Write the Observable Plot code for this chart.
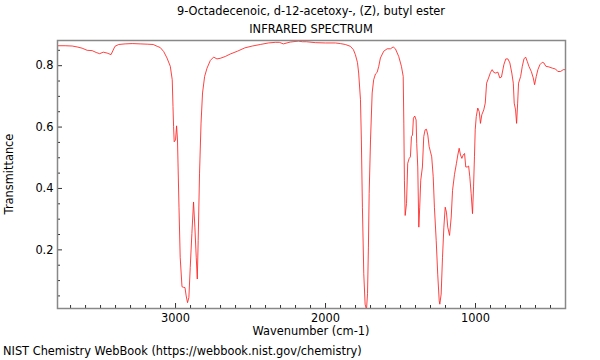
<!DOCTYPE html>
<html><head><meta charset="utf-8">
<script src="https://cdn.jsdelivr.net/npm/d3@7"></script>
<script src="https://cdn.jsdelivr.net/npm/@observablehq/plot@0.6"></script>
<style>
body{margin:0;background:#fff;font-family:"DejaVu Sans",sans-serif;}
#wrap{position:relative;width:600px;height:360px;overflow:hidden;background:#fff;}
.t{position:absolute;white-space:nowrap;color:#000;font-size:11.4px;line-height:1;}
.c{transform:translateX(-50%);}
</style></head><body>
<div id="wrap"></div>
<script>
const titleLines = ["9-Octadecenoic, d-12-acetoxy-, (Z), butyl ester", "INFRARED SPECTRUM"];
const xLabel = "Wavenumber (cm-1)";
const yLabel = "Transmittance";
const caption = "NIST Chemistry WebBook (https://webbook.nist.gov/chemistry)";

const xDomain = [3787, 400];
const yDomain = [0.009, 0.882];
const xMajor = [3000, 2000, 1000];
const xMinor = [3700,3600,3500,3400,3300,3200,3100,2900,2800,2700,2600,2500,2400,2300,2200,2100,1900,1800,1700,1600,1500,1400,1300,1200,1100,900,800,700,600,500,400];
const yMajor = [0.2, 0.4, 0.6, 0.8];
const yMinor = [0.05,0.1,0.15,0.25,0.3,0.35,0.45,0.5,0.55,0.65,0.7,0.75,0.85];

const wavenumber = [3787,3736,3689,3656,3623,3589,3556,3529,3506,3482,3456,3430,3404,3379,3336,3289,3236,3189,3149,3122,3102,3079,3057,3035,3022,3017,3013,3009,3000,2993,2987,2977,2969,2957,2947,2937,2929,2920,2911,2902,2891,2880,2871,2862,2855,2849,2840,2830,2820,2806,2790,2768,2746,2724,2702,2668,2635,2588,2538,2488,2435,2381,2335,2308,2281,2235,2181,2154,2128,2068,2001,1934,1901,1868,1834,1814,1801,1787,1779,1767,1761,1754,1745,1736,1727,1720,1714,1709,1700,1689,1679,1667,1656,1645,1634,1612,1589,1567,1549,1534,1512,1494,1482,1478,1474,1469,1460,1452,1442,1434,1427,1420,1414,1405,1396,1392,1385,1378,1372,1365,1354,1345,1336,1327,1318,1309,1300,1292,1282,1274,1262,1252,1242,1238,1229,1220,1211,1202,1194,1185,1173,1162,1153,1140,1127,1118,1109,1100,1091,1082,1073,1065,1055,1046,1038,1029,1020,1013,1007,1002,995,985,975,967,958,945,935,926,913,900,889,878,865,851,838,827,811,798,784,771,758,748,742,733,726,719,713,699,688,677,666,655,644,628,615,606,595,584,571,555,544,531,511,488,466,451,433,415,400];
const transmittance = [0.865,0.865,0.864,0.861,0.857,0.850,0.849,0.843,0.839,0.844,0.841,0.836,0.863,0.869,0.871,0.872,0.871,0.870,0.869,0.863,0.859,0.846,0.825,0.798,0.754,0.667,0.601,0.552,0.558,0.604,0.558,0.339,0.176,0.080,0.078,0.077,0.050,0.028,0.045,0.143,0.253,0.356,0.274,0.176,0.105,0.230,0.450,0.613,0.711,0.765,0.792,0.817,0.828,0.822,0.824,0.830,0.838,0.847,0.858,0.864,0.869,0.874,0.876,0.876,0.871,0.877,0.880,0.878,0.878,0.875,0.874,0.874,0.872,0.869,0.863,0.852,0.836,0.810,0.776,0.689,0.558,0.339,0.122,0.023,0.005,0.057,0.209,0.384,0.558,0.711,0.754,0.773,0.778,0.798,0.825,0.847,0.855,0.855,0.861,0.855,0.830,0.798,0.765,0.613,0.427,0.312,0.351,0.482,0.498,0.503,0.569,0.574,0.629,0.636,0.623,0.547,0.470,0.274,0.339,0.427,0.470,0.569,0.591,0.593,0.574,0.536,0.519,0.503,0.438,0.339,0.230,0.121,0.034,0.023,0.056,0.176,0.274,0.339,0.323,0.274,0.247,0.307,0.394,0.446,0.482,0.509,0.531,0.509,0.498,0.509,0.514,0.470,0.470,0.473,0.438,0.383,0.318,0.405,0.503,0.591,0.634,0.662,0.650,0.612,0.640,0.656,0.678,0.743,0.760,0.778,0.787,0.778,0.776,0.779,0.760,0.763,0.803,0.822,0.822,0.809,0.776,0.743,0.678,0.656,0.612,0.678,0.743,0.765,0.798,0.822,0.828,0.814,0.798,0.781,0.760,0.738,0.765,0.787,0.803,0.811,0.809,0.798,0.796,0.792,0.789,0.781,0.781,0.787,0.787];

const points = wavenumber.map((w, i) => ({wn: w, t: transmittance[i]}));

const W = 600, H = 360, mt = 40, mb = 52, ml = 57, mr = 35;
const plotH = H - mt - mb, plotW = W - ml - mr;

const chart = Plot.plot({
  width: W, height: H,
  marginTop: mt, marginBottom: mb, marginLeft: ml, marginRight: mr,
  style: {fontFamily: "DejaVu Sans", fontSize: "11.4px", background: "white", color: "black", overflow: "visible"},
  x: {domain: xDomain},
  y: {domain: yDomain},
  marks: [
    Plot.line(points, {x: "wn", y: "t", stroke: "#ff2020", strokeWidth: 0.85, clip: true}),
    Plot.ruleX(xMajor, {insetTop: plotH - 5, stroke: "#333"}),
    Plot.ruleX(xMinor, {insetTop: plotH - 3, stroke: "#333"}),
    Plot.ruleY(yMajor, {insetRight: plotW - 5, stroke: "#333"}),
    Plot.ruleY(yMinor, {insetRight: plotW - 3, stroke: "#333"}),
    Plot.axisX(xMajor, {tickSize: 0, tickPadding: 5, label: null, tickFormat: d => String(d)}),
    Plot.axisY(yMajor, {tickSize: 0, tickPadding: 4, label: null, tickFormat: d => d.toFixed(1)}),
    Plot.frame({stroke: "#888", strokeWidth: 1.5})
  ]
});

const wrap = document.getElementById("wrap");
chart.style.position = "absolute";
chart.style.left = "0px";
chart.style.top = "0px";
wrap.appendChild(chart);

function addText(txt, css, cls) {
  const d = document.createElement("div");
  d.className = "t " + (cls || "");
  d.textContent = txt;
  Object.assign(d.style, css);
  wrap.appendChild(d);
  return d;
}
addText(titleLines[0], {left: "311px", top: "6px"}, "c");
addText(titleLines[1], {left: "311px", top: "24px"}, "c");
addText(xLabel, {left: "311px", top: "326px"}, "c");
addText(caption, {left: "3px", top: "346px"});
addText(yLabel, {left: "10px", top: "174px", transform: "translate(-50%,-50%) rotate(-90deg)"});
</script>
</body></html>
